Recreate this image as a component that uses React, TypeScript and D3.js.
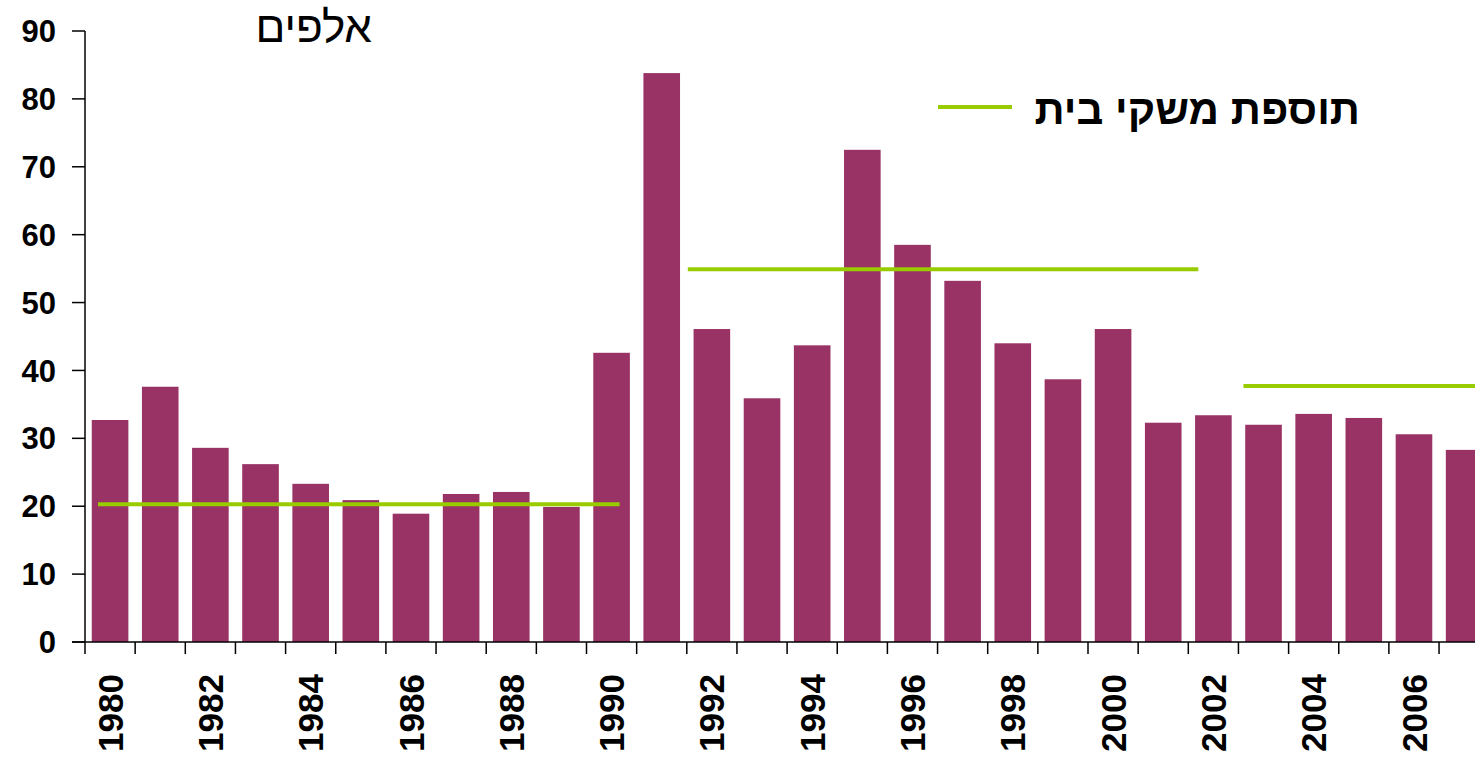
import React from "react";
import * as d3 from "d3";

const years: number[] = d3.range(1980, 2008);
const values: number[] = [
  32.7, 37.6, 28.6, 26.2, 23.3, 20.9, 18.9, 21.8, 22.1, 19.9,
  42.6, 83.8, 46.1, 35.9, 43.7, 72.5, 58.5, 53.2, 44.0, 38.7,
  46.1, 32.3, 33.4, 32.0, 33.6, 33.0, 30.6, 28.3,
];
// average lines: start/end as fractional band positions (year index), value
const avgStart: number[] = [0.26, 12.02, 23.1];
const avgEnd: number[] = [10.66, 22.2, 28.5];
const avgValue: number[] = [20.3, 54.9, 37.7];
const yTicks: number[] = [0, 10, 20, 30, 40, 50, 60, 70, 80, 90];
const title = "אלפים";
const legendLabel = "תוספת משקי בית";

const W = 1475;
const H = 757;
const left = 85;
const step = 50.15;
const top = 31;
const bottom = 642;

export default function App() {
  const x = d3
    .scaleBand<number>()
    .domain(years)
    .range([left, left + step * years.length])
    .paddingInner(0.27)
    .paddingOuter(0.135);
  const xl = d3.scaleLinear().domain([0, years.length]).range([left, left + step * years.length]);
  const y = d3.scaleLinear().domain([0, 90]).range([bottom, top]);
  const font = "'Liberation Sans', Arial, sans-serif";
  return (
    <svg
      width={W}
      height={H}
      style={{ position: "absolute", left: 0, top: 0, background: "#fff" }}
    >
      {years.map((yr, i) => (
        <rect
          key={yr}
          x={x(yr)}
          y={y(values[i])}
          width={x.bandwidth()}
          height={y(0) - y(values[i])}
          fill="#993366"
        />
      ))}
      {avgValue.map((v, i) => (
        <line
          key={i}
          x1={xl(avgStart[i])}
          x2={xl(avgEnd[i])}
          y1={y(v)}
          y2={y(v)}
          stroke="#99CC00"
          strokeWidth={4}
        />
      ))}
      {/* y axis */}
      <line x1={left} x2={left} y1={top} y2={bottom} stroke="#000" strokeWidth={1.5} />
      {yTicks.map((t) => (
        <g key={t}>
          <line x1={left - 13} x2={left} y1={y(t)} y2={y(t)} stroke="#000" strokeWidth={1.5} />
          <text
            x={56}
            y={y(t)}
            dy="0.36em"
            textAnchor="end"
            fontFamily={font}
            fontWeight="bold"
            fontSize={31}
          >
            {t}
          </text>
        </g>
      ))}
      {/* x axis */}
      <line x1={left - 13} x2={W} y1={bottom} y2={bottom} stroke="#000" strokeWidth={1.5} />
      {d3.range(0, years.length + 1).map((i) => (
        <line
          key={i}
          x1={xl(i)}
          x2={xl(i)}
          y1={bottom}
          y2={bottom + 12}
          stroke="#000"
          strokeWidth={1.5}
        />
      ))}
      {years
        .filter((yr) => yr % 2 === 0)
        .map((yr) => {
          const cx = (x(yr) as number) + x.bandwidth() / 2;
          return (
            <text
              key={yr}
              transform={`translate(${cx},674) rotate(-90)`}
              dy="0.36em"
              textAnchor="end"
              fontFamily={font}
              fontWeight="bold"
              fontSize={35}
            >
              {yr}
            </text>
          );
        })}
      <text x={372} y={42} textAnchor="start" fontFamily={font} fontSize={44} direction="rtl">
        {title}
      </text>
      <line x1={938} x2={1012} y1={107} y2={107} stroke="#99CC00" strokeWidth={4} />
      <text
        x={1360}
        y={124}
        textAnchor="start"
        direction="rtl"
        fontFamily={font}
        fontWeight="bold"
        fontSize={42}
      >
        {legendLabel}
      </text>
    </svg>
  );
}
